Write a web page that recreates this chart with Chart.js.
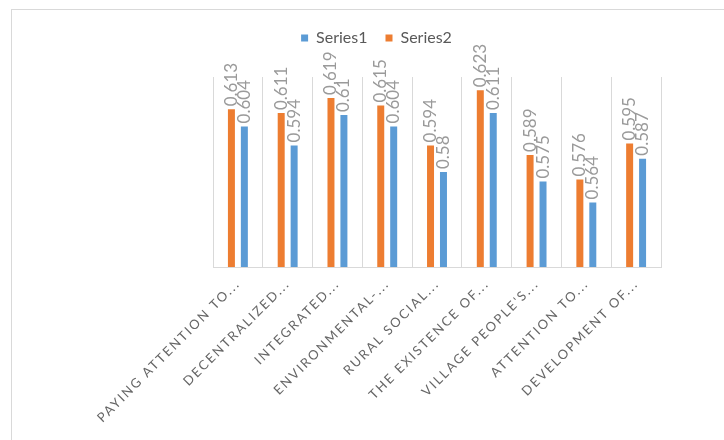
<!DOCTYPE html>
<html>
<head>
<meta charset="utf-8">
<script src="https://cdn.jsdelivr.net/npm/chart.js@4.4.1/dist/chart.umd.min.js"></script>
<style>
    html, body { margin: 0; padding: 0; background: #fff; }
    #wrap { position: relative; width: 724px; height: 440px; overflow: hidden; }
    #frame { position: absolute; left: 11px; top: 9px; right: -4px; bottom: -4px;
             border-left: 1px solid #d9d9d9; border-top: 1px solid #d9d9d9; pointer-events: none; }
</style>
</head>
<body>
<div id="wrap">
    <canvas id="grafico" width="724" height="440"></canvas>
    <div id="frame"></div>
</div>
<script>
// category labels as they appear (truncated) on the axis
const categories = [
    "PAYING ATTENTION TO...", "DECENTRALIZED...", "INTEGRATED...",
    "ENVIRONMENTAL-...", "RURAL SOCIAL...", "THE EXISTENCE OF...",
    "VILLAGE PEOPLE'S...", "ATTENTION TO...", "DEVELOPMENT OF..."
];
const series1 = [0.604, 0.594, 0.61, 0.604, 0.58, 0.611, 0.575, 0.564, 0.587];
const series2 = [0.613, 0.611, 0.619, 0.615, 0.594, 0.623, 0.589, 0.576, 0.595];
const axisMin = 0.53;
const axisMax = 0.63;

// value labels, rotated, just above each bar
const valueLabels = {
    id: 'valueLabels',
    afterDatasetsDraw(chart) {
        const ctx = chart.ctx;
        chart.data.datasets.forEach((ds, i) => {
            chart.getDatasetMeta(i).data.forEach((bar, j) => {
                ctx.save();
                ctx.font = '17px Lato';
                ctx.fillStyle = '#9a9a9a';
                ctx.textAlign = 'left';
                ctx.textBaseline = 'middle';
                ctx.translate(bar.x, bar.y - 3);
                ctx.rotate(-Math.PI / 2);
                ctx.fillText(String(ds.data[j]), 0, 0);
                ctx.restore();
            });
        });
    }
};

// spaced-out capitals on the category axis
const spacedTicks = {
    id: 'spacedTicks',
    beforeDraw(chart) {
        const x = chart.scales.x;
        if (x._spaced) return;
        const orig = x.drawLabels;
        x.drawLabels = function (area) {
            this.ctx.save();
            this.ctx.letterSpacing = '2px';
            orig.call(this, area);
            this.ctx.restore();
        };
        x._spaced = true;
    }
};

// leave room between legend and plot
const legendGap = {
    id: 'legendGap',
    beforeLayout(chart) {
        const lg = chart.legend;
        if (!lg || lg._gap) return;
        const fit = lg.fit;
        lg.fit = function () { fit.call(this); this.height = 65; };
        lg._gap = true;
    }
};

const ctx = document.getElementById('grafico').getContext('2d');
const chart = new Chart(ctx, {
    type: 'bar',
    data: {
        labels: categories,
        datasets: [
            { label: 'Series2', data: series2, backgroundColor: '#ED7D31',
              categoryPercentage: 0.52, barPercentage: 0.54 },
            { label: 'Series1', data: series1, backgroundColor: '#5B9BD5',
              categoryPercentage: 0.52, barPercentage: 0.54 }
        ]
    },
    options: {
        responsive: false,
        animation: false,
        events: [],
        layout: { padding: { left: 29, right: 0, top: 12, bottom: 0 } },
        scales: {
            x: {
                grid: { color: '#d9d9d9', drawTicks: false, offset: true },
                border: { color: '#d9d9d9' },
                ticks: {
                    autoSkip: false, minRotation: 45, maxRotation: 45,
                    padding: 9, color: '#666666',
                    font: { family: 'Lato', size: 13 }
                },
                afterFit(s) { s.height = 173; }
            },
            y: {
                min: axisMin, max: axisMax,
                ticks: { display: false },
                grid: { display: false },
                border: { display: false },
                afterFit(s) { s.width = 184; }
            },
            y2: {
                position: 'right',
                ticks: { display: false },
                grid: { display: false },
                border: { display: false },
                afterFit(s) { s.width = 63; }
            }
        },
        plugins: {
            legend: {
                position: 'top',
                reverse: true,
                labels: {
                    boxWidth: 7, boxHeight: 7, padding: 18,
                    color: '#595959', font: { family: 'Lato', size: 16 }
                }
            },
            tooltip: { enabled: false }
        }
    },
    plugins: [valueLabels, spacedTicks, legendGap]
});
</script>
</body>
</html>
